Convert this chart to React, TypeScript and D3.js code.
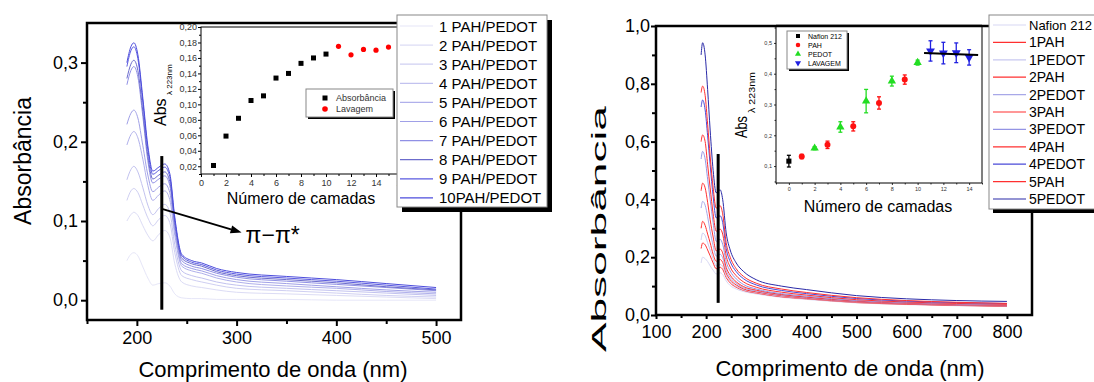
import React, { useEffect, useRef } from 'react';
import * as d3 from 'd3';

const FONT = '"Liberation Sans", Arial, Helvetica, sans-serif';

// ---------- left figure: spectra for 1..10 PAH/PEDOT bilayers ----------
const waveLeft = [190, 194, 197, 201, 206, 211, 216, 222, 228, 233, 238, 245, 255, 265, 280, 300, 350, 400, 450, 500];
const absLeft = [
  [0.050, 0.058, 0.060, 0.056, 0.042, 0.028, 0.019, 0.021, 0.022, 0.018, 0.008, 0.003, 0.002, 0.002, 0.001, 0.001, 0.001, 0.000, 0.000, 0.000],
  [0.100, 0.108, 0.111, 0.107, 0.094, 0.082, 0.075, 0.083, 0.088, 0.080, 0.046, 0.023, 0.018, 0.016, 0.013, 0.010, 0.008, 0.006, 0.004, 0.002],
  [0.126, 0.138, 0.141, 0.136, 0.120, 0.104, 0.094, 0.102, 0.107, 0.098, 0.060, 0.031, 0.026, 0.023, 0.019, 0.015, 0.012, 0.009, 0.006, 0.004],
  [0.152, 0.165, 0.169, 0.162, 0.142, 0.120, 0.108, 0.116, 0.121, 0.111, 0.070, 0.037, 0.031, 0.028, 0.023, 0.019, 0.015, 0.012, 0.009, 0.006],
  [0.196, 0.209, 0.213, 0.205, 0.178, 0.145, 0.126, 0.133, 0.138, 0.127, 0.082, 0.043, 0.037, 0.034, 0.028, 0.023, 0.018, 0.015, 0.011, 0.008],
  [0.222, 0.236, 0.240, 0.230, 0.195, 0.158, 0.137, 0.143, 0.147, 0.136, 0.088, 0.046, 0.040, 0.037, 0.031, 0.026, 0.021, 0.017, 0.013, 0.010],
  [0.272, 0.290, 0.295, 0.282, 0.232, 0.176, 0.148, 0.153, 0.157, 0.145, 0.094, 0.050, 0.043, 0.040, 0.034, 0.029, 0.024, 0.020, 0.016, 0.012],
  [0.280, 0.298, 0.303, 0.290, 0.238, 0.182, 0.153, 0.158, 0.162, 0.150, 0.098, 0.053, 0.046, 0.043, 0.036, 0.031, 0.026, 0.022, 0.017, 0.013],
  [0.295, 0.315, 0.320, 0.305, 0.250, 0.190, 0.159, 0.164, 0.168, 0.156, 0.102, 0.056, 0.048, 0.045, 0.038, 0.033, 0.028, 0.024, 0.019, 0.014],
  [0.300, 0.320, 0.325, 0.310, 0.255, 0.195, 0.163, 0.168, 0.172, 0.160, 0.105, 0.058, 0.050, 0.047, 0.040, 0.035, 0.030, 0.026, 0.021, 0.016],
];
const labelsLeft = ['1 PAH/PEDOT', '2 PAH/PEDOT', '3 PAH/PEDOT', '4 PAH/PEDOT', '5 PAH/PEDOT',
  '6 PAH/PEDOT', '7 PAH/PEDOT', '8 PAH/PEDOT', '9 PAH/PEDOT', '10PAH/PEDOT'];
const colorsLeft = ['#e6e6f8', '#dcdcf5', '#cfcff2', '#c2c2ef', '#b0b0eb', '#a0a0e7', '#9090e5', '#6c6ccc', '#5a5ae0', '#4c4cdc'];
const xTicksLeft = [200, 300, 400, 500];
const xMinorLeft = [150, 250, 350, 450];
const yTicksLeft = [0, 0.1, 0.2, 0.3];
const yMinorLeft = [0.05, 0.15, 0.25];
const barLeft = { wave: 225, from: -0.012, to: 0.182 };
const arrowFrom = [226, 0.115];
const arrowTo = [305, 0.0855];

// inset: absorbance at 223 nm vs number of layers
const layersLeft = [1, 2, 3, 4, 5, 6, 7, 8, 9, 10];
const absLayersLeft = [0.021, 0.059, 0.082, 0.105, 0.111, 0.134, 0.140, 0.153, 0.160, 0.165];
const washLayersLeft = [11, 12, 13, 14, 15];
const absWashLeft = [0.175, 0.164, 0.171, 0.170, 0.174];
const insetXTicksLeft = [0, 2, 4, 6, 8, 10, 12, 14, 16];
const insetXMinorLeft = [1, 3, 5, 7, 9, 11, 13, 15];
const insetYTicksLeft = [0.02, 0.04, 0.06, 0.08, 0.10, 0.12, 0.14, 0.16, 0.18, 0.20];
const insetYMinorLeft = [0.01, 0.03, 0.05, 0.07, 0.09, 0.11, 0.13, 0.15, 0.17, 0.19];

// ---------- right figure: Nafion + PAH / PEDOT layers ----------
const waveRight = [190, 193, 198, 203, 208, 214, 220, 228, 233, 240, 248, 260, 275, 300, 350, 400, 500, 600, 700, 800];
const absRight = [
  [0.180, 0.200, 0.195, 0.185, 0.170, 0.155, 0.142, 0.146, 0.140, 0.118, 0.102, 0.090, 0.081, 0.073, 0.061, 0.054, 0.042, 0.036, 0.032, 0.030],
  [0.230, 0.249, 0.243, 0.225, 0.205, 0.180, 0.160, 0.165, 0.158, 0.130, 0.111, 0.096, 0.085, 0.076, 0.063, 0.056, 0.043, 0.037, 0.033, 0.030],
  [0.260, 0.283, 0.275, 0.250, 0.225, 0.195, 0.170, 0.175, 0.168, 0.136, 0.116, 0.099, 0.087, 0.078, 0.065, 0.057, 0.044, 0.038, 0.034, 0.031],
  [0.300, 0.324, 0.310, 0.280, 0.250, 0.210, 0.186, 0.192, 0.182, 0.145, 0.122, 0.104, 0.090, 0.080, 0.067, 0.058, 0.045, 0.038, 0.034, 0.031],
  [0.370, 0.393, 0.380, 0.340, 0.290, 0.240, 0.204, 0.210, 0.198, 0.155, 0.130, 0.110, 0.094, 0.083, 0.069, 0.060, 0.047, 0.040, 0.035, 0.032],
  [0.430, 0.456, 0.440, 0.390, 0.330, 0.270, 0.222, 0.228, 0.215, 0.165, 0.138, 0.115, 0.098, 0.086, 0.071, 0.062, 0.048, 0.041, 0.036, 0.033],
  [0.540, 0.566, 0.540, 0.470, 0.400, 0.320, 0.255, 0.262, 0.245, 0.185, 0.152, 0.125, 0.105, 0.090, 0.074, 0.065, 0.050, 0.043, 0.038, 0.035],
  [0.600, 0.623, 0.600, 0.520, 0.440, 0.350, 0.290, 0.297, 0.280, 0.205, 0.166, 0.136, 0.114, 0.096, 0.079, 0.069, 0.053, 0.045, 0.040, 0.037],
  [0.720, 0.744, 0.710, 0.620, 0.520, 0.410, 0.336, 0.343, 0.320, 0.230, 0.185, 0.150, 0.125, 0.104, 0.085, 0.074, 0.057, 0.048, 0.043, 0.040],
  [0.770, 0.792, 0.760, 0.660, 0.550, 0.440, 0.370, 0.378, 0.350, 0.250, 0.200, 0.160, 0.133, 0.110, 0.090, 0.078, 0.060, 0.050, 0.044, 0.040],
  [0.900, 0.942, 0.900, 0.780, 0.640, 0.500, 0.423, 0.433, 0.400, 0.284, 0.225, 0.180, 0.150, 0.122, 0.100, 0.088, 0.067, 0.056, 0.050, 0.047],
];
const labelsRight = ['Nafion 212', '1PAH', '1PEDOT', '2PAH', '2PEDOT', '3PAH', '3PEDOT', '4PAH', '4PEDOT', '5PAH', '5PEDOT'];
const colorsRight = ['#d8d8f4', '#ff3030', '#c8c8f0', '#ff3030', '#a8a8e8', '#ff3030', '#9494e4', '#ff3030', '#4a4ad8', '#ff3030', '#2a2aa8'];
const xTicksRight = [100, 200, 300, 400, 500, 600, 700, 800];
const xMinorRight = [150, 250, 350, 450, 550, 650, 750];
const yTicksRight = [0, 0.2, 0.4, 0.6, 0.8, 1.0];
const yMinorRight = [0.1, 0.3, 0.5, 0.7, 0.9];
const barRight = { wave: 224, from: 0.042, to: 0.557 };

// inset: Abs(223 nm) per deposited layer, with error bars
const nafionX = [0];
const nafionY = [0.116];
const nafionErr = [0.019];
const pahX = [1, 3, 5, 7, 9];
const pahY = [0.131, 0.169, 0.229, 0.305, 0.381];
const pahErr = [0.007, 0.012, 0.015, 0.020, 0.015];
const pedotX = [2, 4, 6, 8, 10];
const pedotY = [0.158, 0.227, 0.311, 0.376, 0.436];
const pedotErr = [0.005, 0.017, 0.038, 0.016, 0.008];
const washX = [11, 12, 13, 14];
const washY = [0.474, 0.467, 0.468, 0.453];
const washErr = [0.033, 0.035, 0.032, 0.025];
const fitX = [10.5, 14.7];
const fitY = [0.467, 0.461];
const insetXTicksRight = [0, 2, 4, 6, 8, 10, 12, 14];
const insetXMinorRight = [-1, 1, 3, 5, 7, 9, 11, 13, 15];
const insetYTicksRight = [0.1, 0.2, 0.3, 0.4, 0.5];
const insetYMinorRight = [0.05, 0.15, 0.25, 0.35, 0.45, 0.55];

const comma = (n: number) => (d: any) => d3.format(`.${n}f`)(d).replace('.', ',');

// draws one axis generator, strips the domain path, sets font and tick width
function axis(g: any, gen: any, transform: string, fontSize: number, strokeW: number, color = '#000') {
  const a = g.append('g').attr('transform', transform).call(gen);
  a.attr('font-size', fontSize).attr('font-family', FONT);
  a.select('.domain').remove();
  a.selectAll('line').attr('stroke', '#000').attr('stroke-width', strokeW);
  a.selectAll('text').attr('fill', color);
  return a;
}

function frame(g: any, x0: number, y0: number, x1: number, y1: number, w: number) {
  g.append('rect').attr('x', x0).attr('y', y0).attr('width', x1 - x0).attr('height', y1 - y0)
    .attr('fill', 'none').attr('stroke', '#000').attr('stroke-width', w);
}

function legendBox(g: any, x: number, y: number, w: number, h: number, shadow: number) {
  g.append('rect').attr('x', x + shadow).attr('y', y + shadow).attr('width', w).attr('height', h).attr('fill', '#000');
  g.append('rect').attr('x', x).attr('y', y).attr('width', w).attr('height', h)
    .attr('fill', '#fff').attr('stroke', '#888').attr('stroke-width', 1);
}

function drawLeft(g: any) {
  const x = d3.scaleLinear().domain([150, 525]).range([87, 461]);
  const y = d3.scaleLinear().domain([-0.025, 0.35]).range([320, 23]);
  const line = d3.line<number>().x((_, i) => x(waveLeft[i])).y(d => y(d)).curve(d3.curveMonotoneX);

  g.append('g').selectAll('path').data(absLeft).join('path')
    .attr('d', (d: number[]) => line(d)).attr('fill', 'none')
    .attr('stroke', (_: any, i: number) => colorsLeft[i]).attr('stroke-width', 1);

  axis(g, d3.axisBottom(x).tickValues(xTicksLeft).tickFormat(d3.format('d')).tickSize(6).tickPadding(5), 'translate(0,320)', 18, 2);
  axis(g, d3.axisBottom(x).tickValues(xMinorLeft).tickFormat(() => '').tickSize(4), 'translate(0,320)', 18, 2);
  axis(g, d3.axisLeft(y).tickValues(yTicksLeft).tickFormat(comma(1)).tickSize(6).tickPadding(3), 'translate(87,0)', 18, 2);
  axis(g, d3.axisLeft(y).tickValues(yMinorLeft).tickFormat(() => '').tickSize(4), 'translate(87,0)', 18, 2);
  frame(g, 87, 23, 461, 320, 2.5);

  g.append('text').attr('transform', 'translate(31,161) rotate(-90)').attr('text-anchor', 'middle')
    .attr('font-family', FONT).attr('font-size', 23).text('Absorbância');
  g.append('text').attr('x', 273).attr('y', 377).attr('text-anchor', 'middle')
    .attr('font-family', FONT).attr('font-size', 22).text('Comprimento de onda (nm)');

  // pi-pi* marker
  g.append('line').attr('x1', x(barLeft.wave)).attr('x2', x(barLeft.wave))
    .attr('y1', y(barLeft.from)).attr('y2', y(barLeft.to)).attr('stroke', '#000').attr('stroke-width', 3);
  const p0 = [x(arrowFrom[0]), y(arrowFrom[1])];
  const p1 = [x(arrowTo[0]), y(arrowTo[1])];
  const ang = Math.atan2(p1[1] - p0[1], p1[0] - p0[0]);
  const hl = 11, hw = 4;
  const bx = p1[0] - hl * Math.cos(ang), by = p1[1] - hl * Math.sin(ang);
  g.append('line').attr('x1', p0[0]).attr('y1', p0[1]).attr('x2', bx).attr('y2', by)
    .attr('stroke', '#000').attr('stroke-width', 2);
  g.append('path').attr('fill', '#000')
    .attr('d', `M${p1[0]},${p1[1]}L${bx - hw * Math.sin(ang)},${by + hw * Math.cos(ang)}L${bx + hw * Math.sin(ang)},${by - hw * Math.cos(ang)}Z`);
  g.append('text').attr('x', p1[0] + 4).attr('y', p1[1] + 11).attr('font-family', FONT).attr('font-size', 23)
    .text('π−π*');

  // inset
  const ix = d3.scaleLinear().domain([0, 16]).range([201, 401]);
  const iy = d3.scaleLinear().domain([0.01, 0.20]).range([174, 27]);
  g.append('rect').attr('x', 201).attr('y', 27).attr('width', 200).attr('height', 147).attr('fill', '#fff');
  axis(g, d3.axisBottom(ix).tickValues(insetXTicksLeft).tickFormat(d3.format('d')).tickSize(3).tickPadding(3), 'translate(0,174)', 9, 1, '#333');
  axis(g, d3.axisBottom(ix).tickValues(insetXMinorLeft).tickFormat(() => '').tickSize(2), 'translate(0,174)', 9, 1);
  axis(g, d3.axisLeft(iy).tickValues(insetYTicksLeft).tickFormat(comma(2)).tickSize(3).tickPadding(1), 'translate(201,0)', 9, 1, '#333');
  axis(g, d3.axisLeft(iy).tickValues(insetYMinorLeft).tickFormat(() => '').tickSize(2), 'translate(201,0)', 9, 1);
  frame(g, 201, 27, 401, 174, 1);

  g.append('g').selectAll('rect').data(layersLeft).join('rect')
    .attr('x', (d: number) => ix(d) - 2.5).attr('y', (_: any, i: number) => iy(absLayersLeft[i]) - 2.5)
    .attr('width', 5).attr('height', 5).attr('fill', '#000');
  g.append('g').selectAll('circle').data(washLayersLeft).join('circle')
    .attr('cx', (d: number) => ix(d)).attr('cy', (_: any, i: number) => iy(absWashLeft[i]))
    .attr('r', 2.6).attr('fill', '#ff0000');

  g.append('text').attr('transform', 'translate(166,126) rotate(-90)')
    .attr('font-family', FONT).attr('font-size', 16).text('Abs');
  g.append('text').attr('transform', 'translate(172,95) rotate(-90)')
    .attr('font-family', FONT).attr('font-size', 8).text('λ 223nm');
  g.append('text').attr('x', 301).attr('y', 204).attr('text-anchor', 'middle')
    .attr('font-family', FONT).attr('font-size', 16).text('Número de camadas');

  // inset legend
  legendBox(g, 306, 89, 87, 28, 2);
  g.append('rect').attr('x', 322.5).attr('y', 95.5).attr('width', 5).attr('height', 5).attr('fill', '#000');
  g.append('circle').attr('cx', 325).attr('cy', 109).attr('r', 2.8).attr('fill', '#ff0000');
  g.append('text').attr('x', 336).attr('y', 101).attr('font-family', FONT).attr('font-size', 9).attr('fill', '#333').text('Absorbância');
  g.append('text').attr('x', 336).attr('y', 112).attr('font-family', FONT).attr('font-size', 9).attr('fill', '#333').text('Lavagem');

  // main legend
  legendBox(g, 397, 15, 150, 192, 5);
  const rows = g.append('g').selectAll('g').data(labelsLeft).join('g')
    .attr('transform', (_: any, i: number) => `translate(0,${26 + i * 19.1})`);
  rows.append('line').attr('x1', 400).attr('x2', 433).attr('stroke', (_: any, i: number) => colorsLeft[i]).attr('stroke-width', 1.2);
  rows.append('text').attr('x', 439).attr('y', 5.5).attr('font-family', FONT).attr('font-size', 15).text((d: string) => d);
}

function errorSeries(g: any, ix: any, iy: any, xs: number[], ys: number[], es: number[], color: string, sym: any, size: number, rot = 0) {
  const s = g.append('g');
  xs.forEach((xv, i) => {
    const cx = ix(xv), top = iy(ys[i] + es[i]), bot = iy(ys[i] - es[i]);
    s.append('line').attr('x1', cx).attr('x2', cx).attr('y1', top).attr('y2', bot).attr('stroke', color).attr('stroke-width', 1.3);
    s.append('line').attr('x1', cx - 2).attr('x2', cx + 2).attr('y1', top).attr('y2', top).attr('stroke', color).attr('stroke-width', 1.3);
    s.append('line').attr('x1', cx - 2).attr('x2', cx + 2).attr('y1', bot).attr('y2', bot).attr('stroke', color).attr('stroke-width', 1.3);
    s.append('path').attr('d', d3.symbol().type(sym).size(size)())
      .attr('transform', `translate(${cx},${iy(ys[i])}) rotate(${rot})`).attr('fill', color);
  });
}

function drawRight(g: any) {
  const x = d3.scaleLinear().domain([100, 850]).range([656, 1032]);
  const y = d3.scaleLinear().domain([0, 1]).range([315, 26]);
  const line = d3.line<number>().x((_, i) => x(waveRight[i])).y(d => y(d)).curve(d3.curveMonotoneX);

  g.append('g').selectAll('path').data(absRight).join('path')
    .attr('d', (d: number[]) => line(d)).attr('fill', 'none')
    .attr('stroke', (_: any, i: number) => colorsRight[i]).attr('stroke-width', 1);

  axis(g, d3.axisBottom(x).tickValues(xTicksRight).tickFormat(d3.format('d')).tickSize(4).tickPadding(6), 'translate(0,315)', 18, 2);
  axis(g, d3.axisBottom(x).tickValues(xMinorRight).tickFormat(() => '').tickSize(3), 'translate(0,315)', 18, 2);
  axis(g, d3.axisLeft(y).tickValues(yTicksRight).tickFormat(comma(1)).tickSize(5).tickPadding(1), 'translate(656,0)', 18, 2);
  axis(g, d3.axisLeft(y).tickValues(yMinorRight).tickFormat(() => '').tickSize(4), 'translate(656,0)', 18, 2);
  frame(g, 656, 26, 1032, 315, 2.5);

  g.append('text').attr('transform', 'translate(606,229) rotate(-90)').attr('text-anchor', 'middle')
    .attr('font-family', FONT).attr('font-size', 21).attr('textLength', 246).attr('lengthAdjust', 'spacingAndGlyphs')
    .text('Absorbância');
  g.append('text').attr('x', 850).attr('y', 376).attr('text-anchor', 'middle')
    .attr('font-family', FONT).attr('font-size', 22).text('Comprimento de onda (nm)');

  g.append('line').attr('x1', x(barRight.wave)).attr('x2', x(barRight.wave))
    .attr('y1', y(barRight.from)).attr('y2', y(barRight.to)).attr('stroke', '#000').attr('stroke-width', 3);

  // inset
  const ix = d3.scaleLinear().domain([-1, 15]).range([776, 982]);
  const iy = d3.scaleLinear().domain([0.045, 0.555]).range([183, 26]);
  g.append('rect').attr('x', 776).attr('y', 26).attr('width', 206).attr('height', 157).attr('fill', '#fff');
  axis(g, d3.axisBottom(ix).tickValues(insetXTicksRight).tickFormat(d3.format('d')).tickSize(2).tickPadding(2), 'translate(0,183)', 5.5, 0.8, '#333');
  axis(g, d3.axisBottom(ix).tickValues(insetXMinorRight).tickFormat(() => '').tickSize(1.5), 'translate(0,183)', 5.5, 0.8);
  axis(g, d3.axisLeft(iy).tickValues(insetYTicksRight).tickFormat(comma(1)).tickSize(2).tickPadding(2), 'translate(776,0)', 5.5, 0.8, '#333');
  axis(g, d3.axisLeft(iy).tickValues(insetYMinorRight).tickFormat(() => '').tickSize(1.5), 'translate(776,0)', 5.5, 0.8);
  frame(g, 776, 26, 982, 183, 1);
  g.append('line').attr('x1', 776).attr('x2', 982).attr('y1', 26).attr('y2', 26).attr('stroke', '#000').attr('stroke-width', 2.5);

  errorSeries(g, ix, iy, nafionX, nafionY, nafionErr, '#000', d3.symbolSquare, 26);
  errorSeries(g, ix, iy, pahX, pahY, pahErr, '#ff1010', d3.symbolCircle, 28);
  errorSeries(g, ix, iy, pedotX, pedotY, pedotErr, '#22dd22', d3.symbolTriangle, 30);
  errorSeries(g, ix, iy, washX, washY, washErr, '#2020e0', d3.symbolTriangle, 34, 180);
  g.append('line').attr('x1', ix(fitX[0])).attr('x2', ix(fitX[1])).attr('y1', iy(fitY[0])).attr('y2', iy(fitY[1]))
    .attr('stroke', '#000').attr('stroke-width', 2);

  g.append('text').attr('transform', 'translate(747,138) rotate(-90)')
    .attr('font-family', FONT).attr('font-size', 17).attr('textLength', 22).attr('lengthAdjust', 'spacingAndGlyphs').text('Abs');
  g.append('text').attr('transform', 'translate(755,113) rotate(-90)')
    .attr('font-family', FONT).attr('font-size', 9).attr('textLength', 41).attr('lengthAdjust', 'spacingAndGlyphs').text('λ 223nm');
  g.append('text').attr('x', 878).attr('y', 212).attr('text-anchor', 'middle')
    .attr('font-family', FONT).attr('font-size', 16).text('Número de camadas');

  // inset legend
  legendBox(g, 787, 31, 60, 38, 2);
  const lg = [
    { label: 'Nafion 212', color: '#000', sym: d3.symbolSquare, rot: 0 },
    { label: 'PAH', color: '#ff1010', sym: d3.symbolCircle, rot: 0 },
    { label: 'PEDOT', color: '#22dd22', sym: d3.symbolTriangle, rot: 0 },
    { label: 'LAVAGEM', color: '#2020e0', sym: d3.symbolTriangle, rot: 180 },
  ];
  lg.forEach((d, i) => {
    const yy = 36 + i * 9;
    g.append('path').attr('d', d3.symbol().type(d.sym).size(16)())
      .attr('transform', `translate(798,${yy}) rotate(${d.rot})`).attr('fill', d.color);
    g.append('text').attr('x', 808).attr('y', yy + 2.5).attr('font-family', FONT).attr('font-size', 7).text(d.label);
  });

  // main legend (box runs off the right edge, as in the original)
  legendBox(g, 989, 15, 120, 194, 4);
  const rows = g.append('g').selectAll('g').data(labelsRight).join('g')
    .attr('transform', (_: any, i: number) => `translate(0,${25 + i * 17.4})`);
  rows.append('line').attr('x1', 993).attr('x2', 1026).attr('stroke', (_: any, i: number) => colorsRight[i]).attr('stroke-width', 1.2);
  rows.append('text').attr('x', 1029).attr('y', 5).attr('font-family', FONT)
    .attr('font-size', (d: string) => (d.length > 8 ? 13 : 14)).text((d: string) => d);
}

const App = () => {
  const svgRef = useRef<SVGSVGElement>(null);

  useEffect(() => {
    const svg = d3.select(svgRef.current);
    svg.selectAll('*').remove();
    drawLeft(svg.append('g'));
    drawRight(svg.append('g'));
  }, []);

  return (
    <svg ref={svgRef} width={1094} height={382}
      style={{ position: 'absolute', left: 0, top: 0, background: '#fff' }} />
  );
};

export default App;
